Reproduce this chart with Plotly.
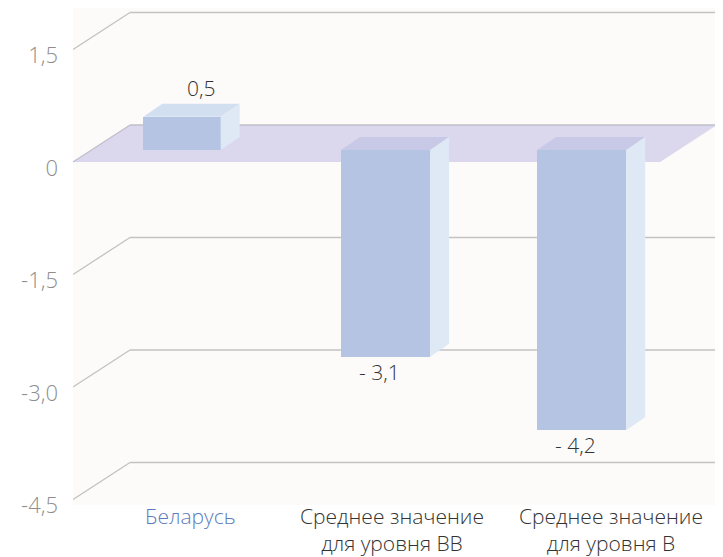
import plotly.graph_objects as go

# ---------------- data ----------------
CATEGORIES = ["Беларусь", "Среднее значение<br>для уровня ВВ", "Среднее значение<br>для уровня В"]
VALUES = [0.5, -3.1, -4.2]
TICK_VALS = [1.5, 0, -1.5, -3.0, -4.5]
TICK_LABELS = ["1,5", "0", "-1,5", "-3,0", "-4,5"]

# ---------------- style / geometry (screen pixels) ----------------
PAGE_PAD = 8                     # default body margin of the html page
SCREEN_W, SCREEN_H = 723, 557
W, H = SCREEN_W - PAGE_PAD, SCREEN_H - PAGE_PAD
PLOT_L, PLOT_R, PLOT_T, PLOT_B = 73, 720, 8, 505   # plot area on screen
ML, MR, MT, MB = PLOT_L - PAGE_PAD, SCREEN_W - PLOT_R, PLOT_T - PAGE_PAD, SCREEN_H - PLOT_B
PW, PH = PLOT_R - PLOT_L, PLOT_B - PLOT_T
X_UNIT_PX = 195.7          # px per category on the front plane
Y_UNIT_PX = 75.0           # px per value unit on the gridline scale
BAR_Y_UNIT_PX = 66.7       # px per value unit used by the bar layer
ZERO_PX = 162              # front-plane zero (screen y)
BAR_ZERO_PX = 150          # bar-layer zero (screen y)
BACK_DX, BACK_DY = 57, 37  # px depth of the back wall
BAR_SHIFT = 18.5           # px shift of bar fronts from the front plane
BAR_DX, BAR_DY = 19, 13    # px depth of each bar
BAR_WIDTHS = [0.395, 0.455, 0.455]
BAR_OFFSETS = [-0.235, -0.225, -0.223]
LABEL_XSHIFT = [1, 7, 30]
LABEL_COLORS = ["#5b7dbd", "#333333", "#333333"]
LABEL_TOP_SHIFT = 4

FRONT = "#b4c4e2"
TOP_POS = "#d2dff1"
TOP_NEG = "#c7c9e6"
SIDE = "#dfe8f5"
PLANE = "rgba(188,184,226,0.52)"
GRID = "#c2c2c2"
FONT = "Open Sans"

# axis ranges derived from pixel geometry
x_min = -0.5
x_max = x_min + PW / X_UNIT_PX
y_max = (ZERO_PX - PLOT_T) / Y_UNIT_PX
y_min = y_max - PH / Y_UNIT_PX
y2_max = (BAR_ZERO_PX - PLOT_T) / BAR_Y_UNIT_PX
y2_min = y2_max - PH / BAR_Y_UNIT_PX
shift_u = BAR_SHIFT / X_UNIT_PX
x2_min, x2_max = x_min - shift_u, x_max - shift_u

bdx = BACK_DX / X_UNIT_PX
bdy = BACK_DY / Y_UNIT_PX
dx = BAR_DX / X_UNIT_PX
dy = BAR_DY / BAR_Y_UNIT_PX


def fmt(v):
    s = f"{abs(v):.1f}".replace(".", ",")
    return ("- " + s) if v < 0 else s


fig = go.Figure()

fig.add_trace(go.Bar(
    x=CATEGORIES, y=VALUES, width=BAR_WIDTHS, offset=BAR_OFFSETS,
    marker=dict(color=FRONT, line=dict(width=0)),
    xaxis="x2", yaxis="y2", hoverinfo="skip", showlegend=False,
))

shapes = []
for v in TICK_VALS:
    shapes.append(dict(type="line", xref="x", yref="y", x0=x_min, y0=v,
                       x1=x_min + bdx, y1=v + bdy, layer="below",
                       line=dict(color=GRID, width=1.3)))
    shapes.append(dict(type="line", xref="x", yref="y", x0=x_min + bdx, y0=v + bdy,
                       x1=x_max - 0.01, y1=v + bdy, layer="below",
                       line=dict(color=GRID, width=1.3)))
n = len(CATEGORIES)
x_front_end = x_min + n
shapes.append(dict(type="path", xref="x", yref="y", layer="below",
                   path=f"M {x_min},0 L {x_min + bdx},{bdy} L {x_front_end + bdx},{bdy} L {x_front_end},0 Z",
                   fillcolor=PLANE, line=dict(width=0)))

for i, v in enumerate(VALUES):
    L = i + BAR_OFFSETS[i]
    R = L + BAR_WIDTHS[i]
    top = max(v, 0)
    bot = min(v, 0)
    shapes.append(dict(type="path", xref="x2", yref="y2", layer="above",
                       path=f"M {L},{top} L {R},{top} L {R + dx},{top + dy} L {L + dx},{top + dy} Z",
                       fillcolor=TOP_POS if v > 0 else TOP_NEG, line=dict(width=0)))
    shapes.append(dict(type="path", xref="x2", yref="y2", layer="above",
                       path=f"M {R},{bot} L {R},{top} L {R + dx},{top + dy} L {R + dx},{bot + dy} Z",
                       fillcolor=SIDE, line=dict(width=0)))

annotations = []
for i, v in enumerate(VALUES):
    L = i + BAR_OFFSETS[i]
    c = L + BAR_WIDTHS[i] / 2
    if v >= 0:
        annotations.append(dict(x=c + dx, y=v + dy, xref="x2", yref="y2",
                                text=fmt(v), showarrow=False, yanchor="bottom", yshift=0,
                                font=dict(family=FONT, size=21, color="#333333", weight=300)))
    else:
        annotations.append(dict(x=c, y=v, xref="x2", yref="y2",
                                text=fmt(v), showarrow=False, yanchor="top", yshift=1, xshift=-6,
                                font=dict(family=FONT, size=21, color="#333333", weight=300)))
for i, cat in enumerate(CATEGORIES):
    annotations.append(dict(x=i, y=0, xref="x2", yref="paper", text=cat, showarrow=False,
                            yanchor="top", yshift=LABEL_TOP_SHIFT, xshift=LABEL_XSHIFT[i],
                            align="center", borderpad=0,
                            font=dict(family=FONT, size=21, color=LABEL_COLORS[i], weight=300)))

fig.update_layout(
    template="none",
    width=W, height=H, autosize=False,
    margin=dict(l=ML, r=MR, t=MT, b=MB, pad=0, autoexpand=False),
    paper_bgcolor="white", plot_bgcolor="#fcfbf9",
    showlegend=False, bargap=0,
    shapes=shapes, annotations=annotations,
    xaxis=dict(range=[x_min, x_max], visible=False, fixedrange=True, automargin=False),
    xaxis2=dict(type="category", categoryarray=CATEGORIES, range=[x2_min, x2_max],
                overlaying="x", visible=False, fixedrange=True, automargin=False),
    yaxis=dict(range=[y_min, y_max], tickvals=TICK_VALS, ticktext=TICK_LABELS,
               showgrid=False, zeroline=False, showline=False, ticks="",
               ticklabelstandoff=14, ticklabelshift=6, automargin=False,
               tickfont=dict(family=FONT, size=22, color="#8e8e8e", weight=300)),
    yaxis2=dict(range=[y2_min, y2_max], overlaying="y", visible=False, fixedrange=True,
                automargin=False),
)

fig.write_html("out.html")
